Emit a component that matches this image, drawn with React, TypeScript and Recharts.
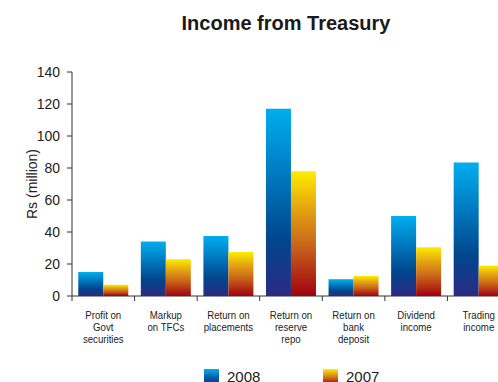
import React from 'react';
import { BarChart, Bar, XAxis, YAxis } from 'recharts';

const categories = [
  'Profit on\nGovt\nsecurities',
  'Markup\non TFCs',
  'Return on\nplacements',
  'Return on\nreserve\nrepo',
  'Return on\nbank\ndeposit',
  'Dividend\nincome',
  'Trading\nincome',
];
const values2008 = [15, 34, 37.5, 117, 10.5, 50, 83.5];
const values2007 = [7, 23, 27.5, 78, 12.5, 30.5, 19];
const yTicks = [0, 20, 40, 60, 80, 100, 120, 140];

const series = [
  { key: 'y2008', name: '2008', fill: 'url(#grad2008)', swatch: 'linear-gradient(#00aeef, #0060a8 55%, #2b2a83)' },
  { key: 'y2007', name: '2007', fill: 'url(#grad2007)', swatch: 'linear-gradient(#ffec00, #d07818 55%, #a0000f)' },
];

const data = categories.map((name, i) => ({ name, y2008: values2008[i], y2007: values2007[i] }));

const font = "'Liberation Sans', Arial, sans-serif";

// category labels are narrow in the original, squeeze them horizontally
const CategoryTick = (props: any) => {
  const { x, y, payload, index } = props;
  const half = payload.offset || 0;
  const lines = String(payload.value).split('\n');
  return (
    <g>
      <line x1={x - half} x2={x - half} y1={y - 8} y2={y - 3} stroke="#333" />
      {index === categories.length - 1 && (
        <line x1={x + half} x2={x + half} y1={y - 8} y2={y - 3} stroke="#333" />
      )}
      <text
        x={x}
        y={y + 15}
        textAnchor="middle"
        fontSize={11.5}
        fill="#222"
        fontFamily={font}
        transform={`translate(${x},0) scale(0.84,1) translate(${-x},0)`}
      >
        {lines.map((l, i) => (
          <tspan key={i} x={x} dy={i === 0 ? 0 : 12}>
            {l}
          </tspan>
        ))}
      </text>
    </g>
  );
};

export default function App() {
  return (
    <div style={{ position: 'absolute', left: 0, top: 0, width: 498, height: 382, overflow: 'hidden', background: '#fff', fontFamily: font }}>
      <div style={{ position: 'absolute', left: 0, width: 572, top: 12, textAlign: 'center', fontSize: 20, fontWeight: 'bold', color: '#1a1a1a' }}>
        Income from Treasury
      </div>
      <BarChart
        width={530}
        height={382}
        data={data}
        margin={{ top: 72, right: 20, bottom: 30, left: 0 }}
        barCategoryGap="10%"
        barGap={0}
      >
        <defs>
          <linearGradient id="grad2008" x1="0" y1="0" x2="0" y2="1">
            <stop offset="0%" stopColor="#00aeef" />
            <stop offset="40%" stopColor="#0072b9" />
            <stop offset="70%" stopColor="#00468c" />
            <stop offset="100%" stopColor="#2b2a83" />
          </linearGradient>
          <linearGradient id="grad2007" x1="0" y1="0" x2="0" y2="1">
            <stop offset="0%" stopColor="#ffec00" />
            <stop offset="30%" stopColor="#e3a412" />
            <stop offset="60%" stopColor="#c8641a" />
            <stop offset="100%" stopColor="#a0000f" />
          </linearGradient>
        </defs>
        <XAxis
          dataKey="name"
          interval={0}
          height={56}
          axisLine={{ stroke: '#333' }}
          tickLine={false}
          tick={<CategoryTick />}
        />
        <YAxis
          width={72}
          domain={[0, 140]}
          ticks={yTicks}
          interval={0}
          axisLine={{ stroke: '#333' }}
          tickLine={{ stroke: '#333' }}
          tickSize={5}
          tickMargin={7}
          tick={{ fontSize: 14, fill: '#222', fontFamily: font }}
          label={{ value: 'Rs (million)', angle: -90, position: 'center', dx: -4, fontSize: 14, fill: '#222', fontFamily: font }}
        />
        {series.map((s) => (
          <Bar key={s.key} dataKey={s.key} name={s.name} fill={s.fill} isAnimationActive={false} />
        ))}
      </BarChart>
      {series.map((s, i) => (
        <div key={s.key} style={{ position: 'absolute', top: 368, left: 204 + i * 119, display: 'flex', alignItems: 'flex-start' }}>
          <div style={{ width: 15, height: 15, background: s.swatch, marginTop: 1 }} />
          <span style={{ marginLeft: 8, fontSize: 15, color: '#222', lineHeight: '18px' }}>{s.name}</span>
        </div>
      ))}
    </div>
  );
}
